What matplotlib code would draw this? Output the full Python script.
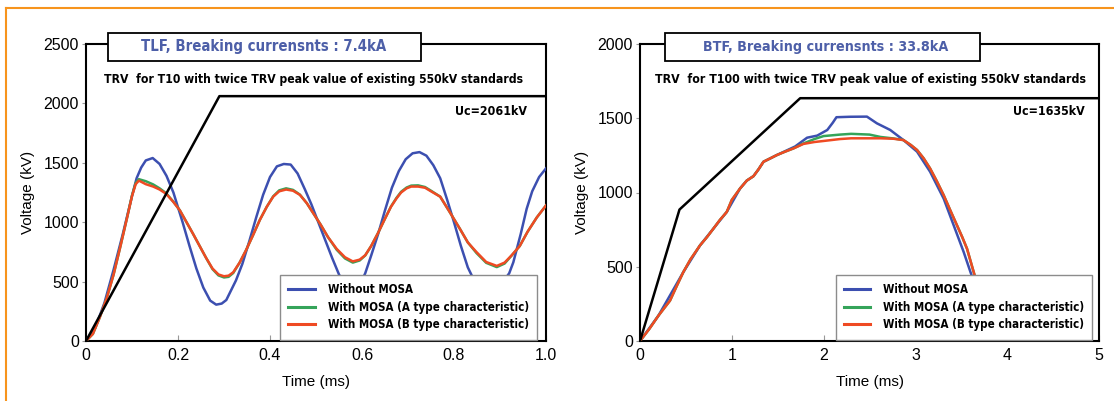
import matplotlib
matplotlib.use('Agg')
import matplotlib.pyplot as plt
from matplotlib.lines import Line2D
from matplotlib.patches import Rectangle
from matplotlib.font_manager import FontProperties, fontManager, weight_dict
from matplotlib.textpath import TextToPath

# ── TLF case (left) ────────────────────────────────────────────────────────
TLF_T_NO = [0, 0.02, 0.04, 0.06, 0.08, 0.10, 0.11, 0.12, 0.13, 0.145, 0.16, 0.175,
            0.19, 0.21, 0.225, 0.24, 0.255, 0.27, 0.283, 0.295, 0.305, 0.326, 0.34,
            0.355, 0.37, 0.385, 0.40, 0.415, 0.43, 0.445, 0.46, 0.476, 0.49, 0.505,
            0.52, 0.535, 0.55, 0.565, 0.58, 0.595, 0.607, 0.62, 0.635, 0.65, 0.665,
            0.68, 0.695, 0.71, 0.725, 0.74, 0.755, 0.77, 0.785, 0.80, 0.815, 0.83,
            0.845, 0.86, 0.875, 0.89, 0.905, 0.92, 0.929, 0.945, 0.958, 0.97, 0.985, 1.0]
TLF_V_NO = [0, 110, 320, 600, 900, 1220, 1370, 1460, 1520, 1540, 1490, 1390,
            1250, 1000, 800, 610, 450, 340, 306, 315, 345, 510, 650,
            840, 1040, 1230, 1380, 1470, 1490, 1485, 1410, 1275, 1150, 1000,
            850, 700, 560, 460, 430, 470, 570, 720, 900, 1100, 1290,
            1430, 1530, 1580, 1590, 1560, 1480, 1370, 1190, 1000, 800, 620,
            500, 440, 420, 440, 490, 570, 663, 900, 1113, 1260, 1380, 1453]

TLF_T_MOSA = [0, 0.015, 0.03, 0.045, 0.06, 0.075, 0.09, 0.10, 0.108, 0.115, 0.13,
              0.146, 0.16, 0.174, 0.19, 0.204, 0.22, 0.233, 0.247, 0.261, 0.275,
              0.288, 0.30, 0.31, 0.32, 0.334, 0.348, 0.363, 0.378, 0.393, 0.407,
              0.42, 0.435, 0.45, 0.465, 0.48, 0.495, 0.51, 0.526, 0.545, 0.563,
              0.58, 0.595, 0.607, 0.62, 0.635, 0.65, 0.663, 0.675, 0.685, 0.697,
              0.707, 0.722, 0.737, 0.75, 0.77, 0.79, 0.813, 0.83, 0.849, 0.87,
              0.893, 0.91, 0.925, 0.943, 0.96, 0.98, 1.0]
TLF_V_A = [0, 60, 200, 360, 560, 800, 1050, 1225, 1330, 1362, 1345,
           1318, 1285, 1245, 1172, 1100, 990, 900, 800, 700, 605,
           552, 535, 540, 572, 660, 765, 890, 1020, 1130, 1218,
           1268, 1285, 1272, 1232, 1160, 1070, 980, 875, 768, 695,
           660, 678, 720, 800, 910, 1030, 1132, 1205, 1256, 1292,
           1308, 1310, 1296, 1265, 1215, 1090, 943, 830, 740, 658,
           622, 652, 718, 800, 920, 1040, 1141]
TLF_V_B = [0, 60, 200, 360, 560, 800, 1050, 1220, 1320, 1350, 1320,
           1300, 1275, 1240, 1170, 1100, 990, 900, 800, 700, 610,
           560, 545, 550, 578, 660, 765, 890, 1020, 1130, 1215,
           1260, 1275, 1265, 1230, 1160, 1070, 980, 875, 775, 705,
           670, 685, 722, 800, 910, 1030, 1130, 1200, 1250, 1285,
           1300, 1300, 1290, 1260, 1215, 1090, 943, 830, 748, 665,
           632, 660, 720, 800, 920, 1040, 1141]

TLF_T_ENV = [0, 0.29, 1.0]
TLF_V_ENV = [0, 2061, 2061]

# ── BTF case (right) ───────────────────────────────────────────────────────
BTF_T_NO = [0, 0.2, 0.472, 0.654, 0.8, 0.945, 1.09, 1.163, 1.236, 1.29, 1.345,
            1.49, 1.69, 1.82, 1.93, 2.04, 2.1, 2.14, 2.29, 2.472, 2.58, 2.726,
            2.87, 3.018, 3.16, 3.308, 3.417, 3.526, 3.6, 3.7, 3.83]
BTF_V_NO = [0, 170, 464, 644, 757, 869, 1027, 1080, 1110, 1155, 1207,
            1252, 1310, 1369, 1383, 1421, 1470, 1507, 1510, 1511, 1466, 1421,
            1353, 1275, 1140, 959, 779, 599, 464, 290, 0]

BTF_T_MOSA = [0, 0.1, 0.2, 0.327, 0.4, 0.472, 0.55, 0.654, 0.73, 0.8, 0.87,
              0.945, 1.0, 1.09, 1.163, 1.236, 1.29, 1.345, 1.42, 1.49, 1.58,
              1.672, 1.78, 1.9, 2.0, 2.18, 2.3, 2.5, 2.62, 2.76, 2.87, 2.95,
              3.018, 3.09, 3.16, 3.23, 3.308, 3.38, 3.453, 3.51, 3.562, 3.635,
              3.7, 3.78, 3.86]
BTF_V_A = [0, 80, 170, 272, 370, 464, 550, 644, 700, 757, 815,
           869, 950, 1027, 1080, 1110, 1155, 1207, 1230, 1252, 1275,
           1297, 1330, 1360, 1380, 1390, 1395, 1390, 1374, 1364, 1353, 1320,
           1286, 1230, 1162, 1080, 982, 880, 779, 700, 622, 464,
           330, 150, 0]
BTF_V_B = [0, 80, 170, 272, 370, 464, 550, 644, 700, 757, 815,
           869, 950, 1027, 1080, 1110, 1155, 1207, 1230, 1252, 1275,
           1297, 1327, 1340, 1347, 1360, 1365, 1365, 1365, 1362, 1353, 1320,
           1286, 1230, 1162, 1080, 982, 880, 779, 700, 622, 464,
           330, 150, 0]

BTF_T_ENV = [0, 0.43, 1.745, 5.0]
BTF_V_ENV = [0, 885, 1635, 1635]

LABELS = ["Without MOSA",
          "With MOSA (A type characteristic)",
          "With MOSA (B type characteristic)"]
COLORS = ["#3c4fb0", "#35a45a", "#ef4a23"]
TITLE_COLOR = "#4d5fa8"

# ── fonts: look for a narrow/condensed bold face, else plain bold ──────────
REGULAR = "Liberation Sans"


def _wnum(w):
    return w if isinstance(w, int) else weight_dict.get(w, 400)


def _is_narrow(f):
    return ("Narrow" in f.name or "Condensed" in f.name
            or f.stretch in ("condensed", "semi-condensed"))


_narrow = [f for f in fontManager.ttflist if _is_narrow(f)]
_narrow_bold = [f for f in _narrow if _wnum(f.weight) >= 600]
if _narrow_bold:
    NARROW, STRETCH, BOLD = _narrow_bold[0].name, _narrow_bold[0].stretch, _narrow_bold[0].weight
elif _narrow:
    NARROW, STRETCH, BOLD = _narrow[0].name, _narrow[0].stretch, "bold"
else:
    NARROW, STRETCH, BOLD = REGULAR, "normal", "bold"

_t2p = TextToPath()


def bold_props(size):
    return FontProperties(family=[NARROW, REGULAR], weight=BOLD,
                          stretch=STRETCH, size=size)


def fit_size(s, target_px, base=10.0):
    """font size (pt) that makes s about target_px wide at 100 dpi"""
    w, _, _ = _t2p.get_text_width_height_descent(s, bold_props(base), ismath=False)
    return base * target_px / (w * 100 / 72)


def draw_panel(ax, t_no, v_no, t_mosa, v_a, v_b, t_env, v_env,
               xmax, ymax, xticks, xticklabels, yticks,
               title, title_x, box_x, sub, sub_x, sub_w, uc, uc_x, leg_x):
    ax.plot(t_no, v_no, color=COLORS[0], lw=1.8, label=LABELS[0], zorder=3)
    ax.plot(t_mosa, v_a, color=COLORS[1], lw=1.8, label=LABELS[1], zorder=4)
    ax.plot(t_mosa, v_b, color=COLORS[2], lw=1.8, label=LABELS[2], zorder=5)
    ax.plot(t_env, v_env, color="black", lw=1.8, zorder=6)

    ax.set_xlim(0, xmax)
    ax.set_ylim(0, ymax)
    ax.set_xticks(xticks)
    ax.set_xticklabels(xticklabels)
    ax.set_yticks(yticks)
    for sp in ax.spines.values():
        sp.set_linewidth(1.5)
    ax.tick_params(axis="x", direction="in", length=4, color="#999999",
                   labelsize=11.5, pad=5)
    ax.tick_params(axis="y", direction="out", length=3, color="#999999",
                   labelsize=11.5, pad=2)
    for lab in ax.get_xticklabels() + ax.get_yticklabels():
        lab.set_family(REGULAR)
    ax.set_xlabel("Time (ms)", fontsize=11, family=REGULAR, labelpad=9)
    ax.set_ylabel("Voltage (kV)", fontsize=11, family=REGULAR, labelpad=6)

    # title box sitting on the top frame
    ax.add_patch(Rectangle((box_x[0], 0.943), box_x[1] - box_x[0], 0.094,
                           transform=ax.transAxes, facecolor="white",
                           edgecolor="black", lw=1.3, clip_on=False, zorder=10))
    ax.text(title_x, 0.99, title, transform=ax.transAxes, ha="center", va="center",
            color=TITLE_COLOR, fontproperties=bold_props(fit_size(title, 245)),
            zorder=11, clip_on=False)
    ax.text(sub_x, 0.879, sub, transform=ax.transAxes, ha="center", va="center",
            fontproperties=bold_props(fit_size(sub, sub_w)), zorder=11)
    ax.text(uc_x, 0.773, uc, transform=ax.transAxes, ha="right", va="center",
            fontproperties=bold_props(fit_size(uc, 72)), zorder=11)

    leg = ax.legend(loc="lower right", bbox_to_anchor=(leg_x, 0.005),
                    prop=bold_props(fit_size(LABELS[1], 200)),
                    frameon=True, fancybox=False, framealpha=1,
                    edgecolor="#8c8c8c", handlelength=2.3, handletextpad=1.1,
                    borderpad=0.7, labelspacing=0.4, borderaxespad=0)
    leg.get_frame().set_linewidth(1.0)
    leg.set_zorder(20)
    for h in leg.get_lines():
        h.set_linewidth(2.2)


fig = plt.figure(figsize=(11.14, 4.01), dpi=100)
ax1 = fig.add_axes([86 / 1114, 1 - 341 / 401, 460 / 1114, 297 / 401])
ax2 = fig.add_axes([640 / 1114, 1 - 341 / 401, 459 / 1114, 297 / 401])

draw_panel(ax1, TLF_T_NO, TLF_V_NO, TLF_T_MOSA, TLF_V_A, TLF_V_B,
           TLF_T_ENV, TLF_V_ENV, 1.0, 2500,
           [0, 0.2, 0.4, 0.6, 0.8, 1.0], ["0", "0.2", "0.4", "0.6", "0.8", "1.0"],
           [0, 500, 1000, 1500, 2000, 2500],
           "TLF, Breaking currensnts : 7.4kA", 0.387, (0.048, 0.728),
           "TRV  for T10 with twice TRV peak value of existing 550kV standards",
           0.494, 420, "Uc=2061kV", 0.959, 0.980)

draw_panel(ax2, BTF_T_NO, BTF_V_NO, BTF_T_MOSA, BTF_V_A, BTF_V_B,
           BTF_T_ENV, BTF_V_ENV, 5.0, 2000,
           [0, 1, 2, 3, 4, 5], ["0", "1", "2", "3", "4", "5"],
           [0, 500, 1000, 1500, 2000],
           "BTF, Breaking currensnts : 33.8kA", 0.405, (0.054, 0.741),
           "TRV  for T100 with twice TRV peak value of existing 550kV standards",
           0.502, 432, "Uc=1635kV", 0.968, 0.985)

# orange page frame (top and left edges)
fig.add_artist(Line2D([6 / 1114, 1], [1 - 8 / 401, 1 - 8 / 401],
                      transform=fig.transFigure, color="#f7941d", lw=1.5))
fig.add_artist(Line2D([6 / 1114, 6 / 1114], [0, 1 - 8 / 401],
                      transform=fig.transFigure, color="#f7941d", lw=1.5))

fig.savefig("out.png", dpi=100)
plt.close(fig)
